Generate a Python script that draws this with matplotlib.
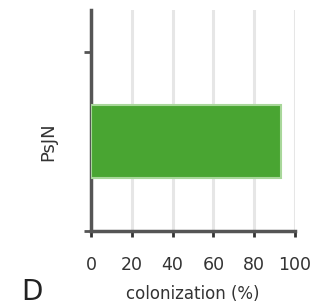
import matplotlib
matplotlib.use("Agg")
import matplotlib.pyplot as plt

strains = ["PsJN"]
colonization = [93]
xticks = [0, 20, 40, 60, 80, 100]

dpi = 100.0
fig = plt.figure(figsize=(324 / dpi, 308 / dpi), dpi=dpi)
ax = fig.add_axes([0.281, 0.25, 0.629, 0.718])

ax.barh(range(len(strains)), colonization, height=0.41,
        color="#49a532", edgecolor="#a8d79a", linewidth=1.5, zorder=3)

ax.set_xlim(0, 100)
ax.set_ylim(-0.5, 0.735)
ax.set_xticks(xticks)
ax.set_xticklabels([str(v) for v in xticks])
ax.grid(axis="x", color="#e6e6e6", linewidth=2.2, zorder=0)

# category label sits between the two boundary ticks
ax.set_yticks([-0.5, 0.5])
ax.set_yticklabels(["", ""])
ax.set_yticks(range(len(strains)), minor=True)
ax.set_yticklabels(strains, minor=True, rotation=90, va="center", fontsize=13,
                   color="#333333")
ax.tick_params(axis="y", which="minor", length=0, pad=24)

for s in ["top", "right"]:
    ax.spines[s].set_visible(False)
for s in ["left", "bottom"]:
    ax.spines[s].set_color("#555555")
    ax.spines[s].set_linewidth(2.5)

ax.tick_params(axis="x", which="major", length=4, width=2, color="#333333",
               pad=14, labelsize=12.5, labelcolor="#333333")
ax.tick_params(axis="y", which="major", length=5, width=2, color="#555555")

ax.set_xlabel("colonization (%)", fontsize=12, labelpad=8, color="#333333")
fig.text(0.065, 0.025, "D", fontsize=20, color="#222222")

fig.savefig("out.png", dpi=dpi)
plt.close(fig)
